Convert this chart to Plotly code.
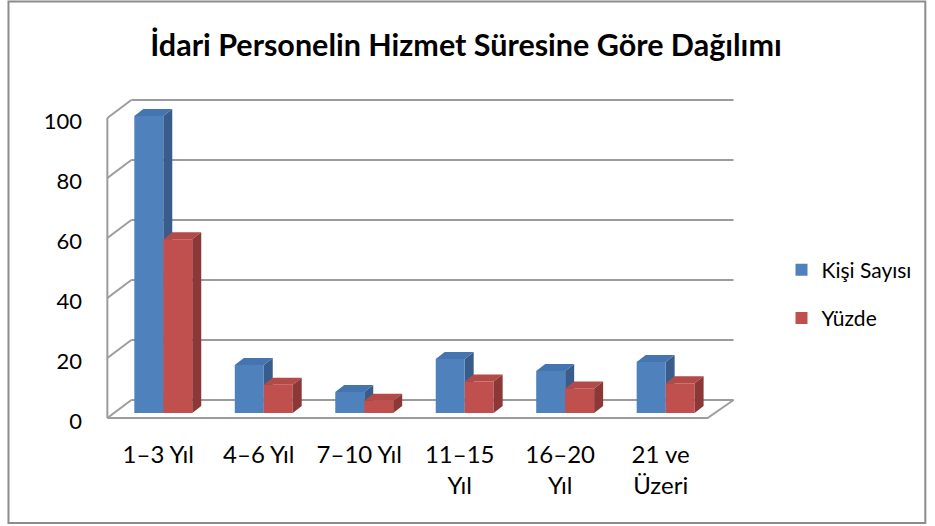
import plotly.graph_objects as go

# ---------------- data ----------------
categories = ["1–3 Yıl", "4–6 Yıl", "7–10 Yıl", "11–15<br>Yıl", "16–20<br>Yıl", "21 ve<br>Üzeri"]
kisi_sayisi = [99, 16, 7, 18, 14, 17]
yuzde = [57.9, 9.4, 4.1, 10.5, 8.2, 9.9]
series_names = ["Kişi Sayısı", "Yüzde"]
y_ticks = [0, 20, 40, 60, 80, 100]
title_text = "İdari Personelin Hizmet Süresine Göre Dağılımı"

# ---------------- styling / layout constants ----------------
FONT = "Lato, 'Open Sans', sans-serif"
FIG_W, FIG_H = 935, 526
PX_PER_CAT = 100.6           # pixel spacing between categories
X0_PX = 163.0                # pixel of category 0 centre
XMIN, XMAX = -0.6, 5.75
PX_PER_VAL = 3.0
Y0_PX = 413.0
YMIN, YMAX = -3.0, 107.0
L = X0_PX + XMIN * PX_PER_CAT
R = X0_PX + XMAX * PX_PER_CAT
B = Y0_PX - YMIN * PX_PER_VAL
T = Y0_PX - YMAX * PX_PER_VAL

BAR_W = 29 / PX_PER_CAT
BAR_DX = 9 / PX_PER_CAT      # 3-D depth of bars
BAR_DY = 7 / PX_PER_VAL

WALL_FRONT_X = (107 - X0_PX) / PX_PER_CAT
WALL_BACK_X = (131 - X0_PX) / PX_PER_CAT
FLOOR_FRONT_RIGHT = (708 - X0_PX) / PX_PER_CAT
BACK_RIGHT = (734 - X0_PX) / PX_PER_CAT
FRONT_DY = -5 / PX_PER_VAL
BACK_DY = 13 / PX_PER_VAL

GRID = "#9C9C9C"
BLUE, BLUE_SIDE, BLUE_TOP = "#4F81BD", "#385D8A", "#4575B0"
RED, RED_SIDE, RED_TOP = "#C0504D", "#8C3836", "#B34A47"


def px_to_paper_x(px):
    return (px - L) / (R - L)


def px_to_paper_y(py):
    return (B - py) / (B - T)


fig = go.Figure()
xs = list(range(len(categories)))
fig.add_trace(go.Bar(x=xs, y=kisi_sayisi, name=series_names[0], marker_color=BLUE,
                     marker_line_width=0, width=BAR_W, offset=-BAR_W, legendgroup="a"))
fig.add_trace(go.Bar(x=xs, y=yuzde, name=series_names[1], marker_color=RED,
                     marker_line_width=0, width=BAR_W, offset=0, legendgroup="b"))

shapes = []
line = dict(color=GRID, width=2)
# back wall gridlines and left wall diagonals
for v in y_ticks:
    shapes.append(dict(type="line", xref="x", yref="y", layer="below",
                       x0=WALL_BACK_X, x1=BACK_RIGHT, y0=v + BACK_DY, y1=v + BACK_DY, line=line))
    shapes.append(dict(type="line", xref="x", yref="y", layer="below",
                       x0=WALL_FRONT_X, x1=WALL_BACK_X, y0=v + FRONT_DY, y1=v + BACK_DY, line=line))
# left wall front edge
shapes.append(dict(type="line", xref="x", yref="y", layer="below",
                   x0=WALL_FRONT_X, x1=WALL_FRONT_X, y0=y_ticks[0] + FRONT_DY,
                   y1=y_ticks[-1] + FRONT_DY, line=line))
# floor front and right edges
shapes.append(dict(type="path", xref="x", yref="y", layer="below",
                   path=f"M {WALL_FRONT_X},{FRONT_DY} L {FLOOR_FRONT_RIGHT},{FRONT_DY} L {BACK_RIGHT},{BACK_DY}",
                   line=line))


def para(x0, y0, x1, y1, x2, y2, x3, y3):
    return f"M {x0},{y0} L {x1},{y1} L {x2},{y2} L {x3},{y3} Z"


# 3-D faces
for i in xs:
    vb = kisi_sayisi[i]
    xr = i
    shapes.append(dict(type="path", xref="x", yref="y", layer="below", line_width=0,
                       fillcolor=BLUE_SIDE,
                       path=para(xr, 0, xr, vb, xr + BAR_DX, vb + BAR_DY, xr + BAR_DX, BAR_DY)))
for i in xs:
    vb, vr = kisi_sayisi[i], yuzde[i]
    xl, xr = i - BAR_W, i
    shapes.append(dict(type="path", xref="x", yref="y", layer="above", line_width=0,
                       fillcolor=BLUE_TOP,
                       path=para(xl, vb, xr, vb, xr + BAR_DX, vb + BAR_DY, xl + BAR_DX, vb + BAR_DY)))
    xl, xr = i, i + BAR_W
    shapes.append(dict(type="path", xref="x", yref="y", layer="above", line_width=0,
                       fillcolor=RED_TOP,
                       path=para(xl, vr, xr, vr, xr + BAR_DX, vr + BAR_DY, xl + BAR_DX, vr + BAR_DY)))
    shapes.append(dict(type="path", xref="x", yref="y", layer="above", line_width=0,
                       fillcolor=RED_SIDE,
                       path=para(xr, 0, xr, vr, xr + BAR_DX, vr + BAR_DY, xr + BAR_DX, BAR_DY)))

# chart border
shapes.append(dict(type="rect", xref="paper", yref="paper", layer="above",
                   x0=px_to_paper_x(8), x1=px_to_paper_x(926),
                   y0=px_to_paper_y(523), y1=px_to_paper_y(1.5),
                   line=dict(color="#8C8C8C", width=2)))

fig.update_layout(
    width=FIG_W, height=FIG_H,
    margin=dict(l=L, r=FIG_W - R, t=T, b=FIG_H - B, pad=0),
    paper_bgcolor="white", plot_bgcolor="white",
    barmode="overlay",
    shapes=shapes,
    font=dict(family=FONT, color="#000000"),
    title=dict(text=f"<b>{title_text}</b>", x=466 / FIG_W, xanchor="center",
               y=1 - 45 / FIG_H, yanchor="middle", font=dict(size=30.5, color="#000000")),
    legend=dict(x=px_to_paper_x(782), xanchor="left", y=px_to_paper_y(294), yanchor="middle",
                font=dict(size=21), tracegroupgap=18, bgcolor="rgba(0,0,0,0)"),
    showlegend=True,
)
fig.update_xaxes(range=[XMIN, XMAX], tickmode="array", tickvals=xs, ticktext=categories,
                 showgrid=False, zeroline=False, showline=False, ticks="",
                 tickfont=dict(size=24), ticklabelshift=-5, ticklabelstandoff=16)
fig.update_yaxes(range=[YMIN, YMAX], tickmode="array", tickvals=y_ticks,
                 showgrid=False, zeroline=False, showline=False, ticks="",
                 tickfont=dict(size=22), ticklabelshift=8, ticklabelstandoff=20)

fig.write_html("out.html", config={"displayModeBar": False},
               post_script="document.body.style.margin='0';")
